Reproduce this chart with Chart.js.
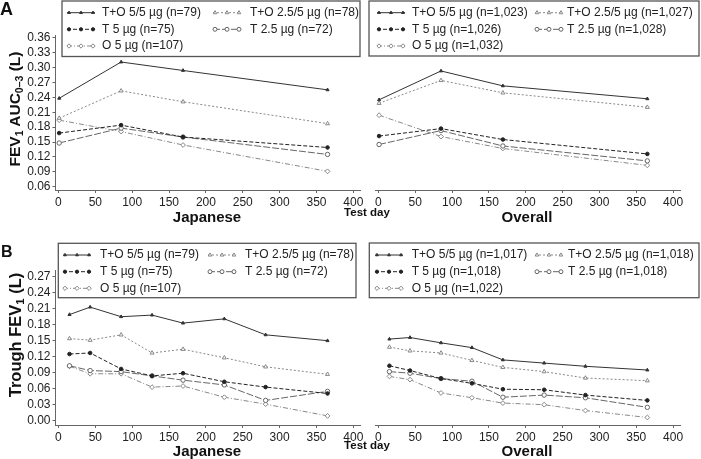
<!DOCTYPE html>
<html>
<head>
<meta charset="utf-8">
<script src="https://cdn.jsdelivr.net/npm/chart.js@4.4.0/dist/chart.umd.min.js"></script>
<style>
body { margin: 0; background: #fff; }
#wrap { position: relative; width: 701px; height: 459px; overflow: hidden; font-family: "Liberation Sans", Arial, sans-serif; color: #111; }
canvas { position: absolute; left: 0; top: 0; }
.t { position: absolute; font-weight: bold; white-space: nowrap; line-height: 1; transform: translate(-50%, -50%); }
.rot { transform: translate(-50%, -50%) rotate(-90deg); }
.t sub { font-size: 0.68em; vertical-align: -0.3em; line-height: 0; }
</style>
</head>
<body>
<div id="wrap">
  <canvas id="cAJ" width="701" height="459"></canvas>
  <canvas id="cAO" width="701" height="459"></canvas>
  <canvas id="cBJ" width="701" height="459"></canvas>
  <canvas id="cBO" width="701" height="459"></canvas>

  <div class="t" style="left:0;top:0;transform:none;font-size:18px;">A</div>
  <div class="t" style="left:1px;top:244px;transform:none;font-size:16px;">B</div>
  <div class="t rot" style="left:15px;top:109px;font-size:15.5px;">FEV<sub>1</sub> AUC<sub>0–3</sub> (L)</div>
  <div class="t rot" style="left:15px;top:335px;font-size:16.5px;">Trough FEV<sub>1</sub> (L)</div>
  <div class="t" style="left:207px;top:216px;font-size:15px;">Japanese</div>
  <div class="t" style="left:527px;top:216px;font-size:15px;">Overall</div>
  <div class="t" style="left:367px;top:213px;font-size:11.5px;">Test day</div>
  <div class="t" style="left:207px;top:450px;font-size:15px;">Japanese</div>
  <div class="t" style="left:527px;top:450px;font-size:15px;">Overall</div>
  <div class="t" style="left:367px;top:446px;font-size:11.5px;">Test day</div>
</div>
<script>
// Ejes
const xTicks = [0, 50, 100, 150, 200, 250, 300, 350, 400];
const yTicksA = [0.06, 0.09, 0.12, 0.15, 0.18, 0.21, 0.24, 0.27, 0.30, 0.33, 0.36];
const yTicksB = [0.00, 0.03, 0.06, 0.09, 0.12, 0.15, 0.18, 0.21, 0.24, 0.27];

// Días de medición
const daysA = [1, 85, 169, 365];
const daysB = [15, 43, 85, 127, 169, 225, 281, 365];

// Panel A - Japoneses (FEV1 AUC0-3)
const aJpnTO55 = [0.238, 0.311, 0.294, 0.255];
const aJpnTO255 = [0.198, 0.253, 0.231, 0.187];
const aJpnT5 = [0.168, 0.184, 0.160, 0.139];
const aJpnT25 = [0.148, 0.178, 0.160, 0.125];
const aJpnO5 = [0.194, 0.171, 0.144, 0.091];

// Panel A - Global
const aAllTO55 = [0.235, 0.293, 0.263, 0.237];
const aAllTO255 = [0.228, 0.274, 0.249, 0.220];
const aAllT5 = [0.162, 0.177, 0.155, 0.126];
const aAllT25 = [0.145, 0.173, 0.142, 0.112];
const aAllO5 = [0.204, 0.161, 0.137, 0.103];

// Panel B - Japoneses (Trough FEV1)
const bJpnTO55 = [0.199, 0.213, 0.195, 0.198, 0.183, 0.191, 0.161, 0.150];
const bJpnTO255 = [0.154, 0.151, 0.161, 0.127, 0.134, 0.118, 0.101, 0.087];
const bJpnT5 = [0.125, 0.127, 0.097, 0.084, 0.089, 0.073, 0.063, 0.051];
const bJpnT25 = [0.103, 0.094, 0.092, 0.084, 0.076, 0.067, 0.038, 0.055];
const bJpnO5 = [0.102, 0.088, 0.088, 0.063, 0.065, 0.044, 0.031, 0.009];

// Panel B - Global
const bAllTO55 = [0.153, 0.156, 0.146, 0.137, 0.114, 0.108, 0.102, 0.095];
const bAllTO255 = [0.138, 0.131, 0.127, 0.113, 0.100, 0.092, 0.080, 0.075];
const bAllT5 = [0.103, 0.094, 0.079, 0.070, 0.059, 0.058, 0.048, 0.038];
const bAllT25 = [0.092, 0.089, 0.079, 0.074, 0.044, 0.048, 0.043, 0.025];
const bAllO5 = [0.083, 0.077, 0.052, 0.043, 0.033, 0.030, 0.019, 0.006];

// Leyendas
const namesAJpn = ["T+O 5/5 µg (n=79)", "T+O 2.5/5 µg (n=78)", "T 5 µg (n=75)", "T 2.5 µg (n=72)", "O 5 µg (n=107)"];
const namesAAll = ["T+O 5/5 µg (n=1,023)", "T+O 2.5/5 µg (n=1,027)", "T 5 µg (n=1,026)", "T 2.5 µg (n=1,028)", "O 5 µg (n=1,032)"];
const namesBJpn = ["T+O 5/5 µg (n=79)", "T+O 2.5/5 µg (n=78)", "T 5 µg (n=75)", "T 2.5 µg (n=72)", "O 5 µg (n=107)"];
const namesBAll = ["T+O 5/5 µg (n=1,017)", "T+O 2.5/5 µg (n=1,018)", "T 5 µg (n=1,018)", "T 2.5 µg (n=1,018)", "O 5 µg (n=1,022)"];

// Estilo de cada serie
const styles = [
    { color: '#333', dash: [], point: 'triangle', fill: '#333', radius: 1.8 },
    { color: '#888', dash: [2, 2], point: 'triangle', fill: '#fff', radius: 2.3 },
    { color: '#222', dash: [4, 2], point: 'circle', fill: '#222', radius: 1.8 },
    { color: '#666', dash: [7, 2], point: 'circle', fill: '#fff', radius: 2.2 },
    { color: '#888', dash: [5, 2, 1, 2], point: 'rectRot', fill: '#fff', radius: 2.4 }
];

const FONT = '"Liberation Sans", Arial, sans-serif';

// Leyenda con recuadro dibujada sobre el canvas
function legendPlugin(names, leg) {
    return {
        id: 'boxLegend',
        afterDraw(chart) {
            const ctx = chart.ctx;
            ctx.save();
            ctx.fillStyle = '#fff';
            ctx.fillRect(leg.x, leg.y, leg.w, leg.h);
            ctx.strokeStyle = '#555';
            ctx.lineWidth = 1.3;
            ctx.strokeRect(leg.x, leg.y, leg.w, leg.h);
            ctx.font = '12px ' + FONT;
            ctx.textBaseline = 'middle';
            names.forEach(function (name, i) {
                const col = i % 2;
                const y = leg.rows[Math.floor(i / 2)];
                const sx = col ? leg.s2 : leg.s1;
                const tx = col ? leg.t2 : leg.t1;
                const st = styles[i];
                ctx.strokeStyle = st.color;
                ctx.lineWidth = 1;
                ctx.setLineDash(st.dash);
                ctx.beginPath();
                ctx.moveTo(sx, y);
                ctx.lineTo(sx + 28, y);
                ctx.stroke();
                ctx.setLineDash([]);
                [2, 14, 26].forEach(function (dx) {
                    ctx.fillStyle = st.fill;
                    ctx.strokeStyle = st.color;
                    Chart.helpers.drawPoint(ctx, { pointStyle: st.point, radius: st.radius * 0.9, borderWidth: 1, rotation: 0 }, sx + dx, y);
                });
                ctx.fillStyle = '#222';
                ctx.fillText(name, tx, y);
            });
            ctx.restore();
        }
    };
}

function panel(id, days, series, names, yTicks, yMin, yMax, area, showY, leg) {
    const yW = showY ? 40 : 0;
    return new Chart(document.getElementById(id).getContext('2d'), {
        type: 'line',
        data: {
            datasets: series.map(function (vals, i) {
                return {
                    data: days.map(function (d, j) { return { x: d, y: vals[j] }; }),
                    borderColor: styles[i].color,
                    borderWidth: 1,
                    borderDash: styles[i].dash,
                    pointStyle: styles[i].point,
                    pointRadius: styles[i].radius,
                    pointBackgroundColor: styles[i].fill,
                    pointBorderColor: styles[i].color,
                    pointBorderWidth: 1,
                    tension: 0,
                    fill: false
                };
            })
        },
        options: {
            responsive: false,
            animation: false,
            layout: { padding: { left: area.left - yW, right: 701 - area.right, top: area.top, bottom: 459 - area.bottom - 30 } },
            plugins: { legend: { display: false }, tooltip: { enabled: false } },
            scales: {
                x: {
                    type: 'linear', min: -4, max: 410,
                    afterBuildTicks: function (s) { s.ticks = xTicks.map(function (v) { return { value: v }; }); },
                    afterFit: function (s) { s.height = 30; },
                    ticks: { font: { size: 12, family: FONT }, color: '#222', padding: 2, maxRotation: 0, autoSkip: false },
                    grid: { drawOnChartArea: false, drawTicks: true, tickLength: 3, color: '#666' },
                    border: { display: true, color: '#666', width: 1 }
                },
                y: {
                    display: showY, min: yMin, max: yMax,
                    afterBuildTicks: function (s) { s.ticks = yTicks.map(function (v) { return { value: v }; }); },
                    afterFit: function (s) { s.width = yW; },
                    ticks: { font: { size: 12, family: FONT }, color: '#222', padding: 2, autoSkip: false,
                        callback: function (v) { return Number(v).toFixed(2); } },
                    grid: { drawOnChartArea: false, drawTicks: true, tickLength: 3, color: '#666' },
                    border: { display: true, color: '#666', width: 1 }
                }
            }
        },
        plugins: [legendPlugin(names, leg)]
    });
}

panel('cAJ', daysA, [aJpnTO55, aJpnTO255, aJpnT5, aJpnT25, aJpnO5], namesAJpn, yTicksA, 0.0534, 0.3654,
    { left: 55.5, right: 360.7, top: 35, bottom: 190 }, true,
    { x: 62, y: 1, w: 298, h: 55.5, s1: 67, t1: 102, s2: 213, t2: 250, rows: [12.7, 29.3, 46] });

panel('cAO', daysA, [aAllTO55, aAllTO255, aAllT5, aAllT25, aAllO5], namesAAll, yTicksA, 0.0534, 0.3654,
    { left: 375.4, right: 680.5, top: 35, bottom: 190 }, false,
    { x: 369, y: 1, w: 330, h: 55, s1: 377, t1: 412, s2: 535, t2: 567, rows: [12.7, 29.3, 46] });

panel('cBJ', daysB, [bJpnTO55, bJpnTO255, bJpnT5, bJpnT25, bJpnO5], namesBJpn, yTicksB, -0.0081, 0.2826,
    { left: 55.5, right: 360.7, top: 270, bottom: 425 }, true,
    { x: 58.3, y: 243.3, w: 297.7, h: 54.4, s1: 63, t1: 100, s2: 208, t2: 245, rows: [255, 271.7, 288.3] });

panel('cBO', daysB, [bAllTO55, bAllTO255, bAllT5, bAllT25, bAllO5], namesBAll, yTicksB, -0.0081, 0.2826,
    { left: 375.4, right: 680.5, top: 270, bottom: 425 }, false,
    { x: 369.3, y: 243, w: 329.7, h: 54.7, s1: 375, t1: 411.7, s2: 535, t2: 568, rows: [255, 271.7, 288.3] });
</script>
</body>
</html>
